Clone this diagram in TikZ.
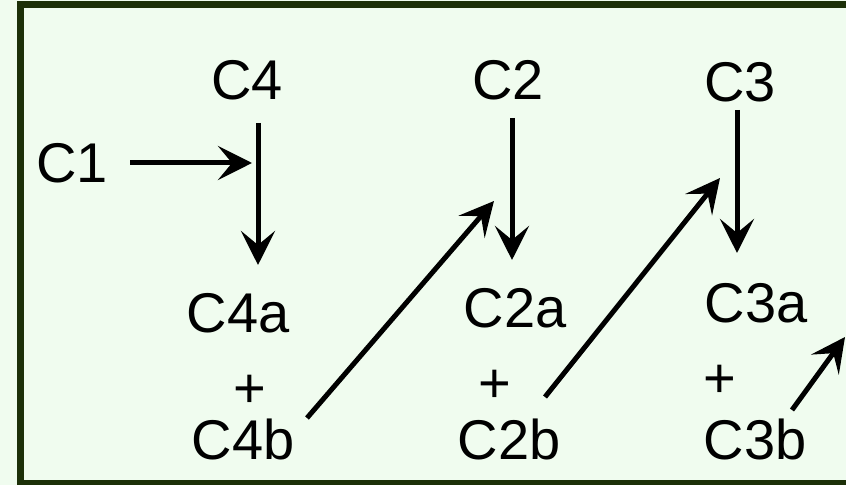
\documentclass[tikz,border=0pt]{standalone}
\usepackage{fontspec}
\setmainfont{Liberation Sans}
\usepackage{xcolor}
\usetikzlibrary{arrows.meta,calc}
\definecolor{mint}{RGB}{240,252,239}
\definecolor{frame}{RGB}{28,48,8}

\begin{document}
\begin{tikzpicture}[
  x=0.5pt,y=-0.5pt,
  font=\fontsize{28}{32}\selectfont,
  lbl/.style={inner sep=0pt, anchor=base},
  arr/.style={-{Stealth[length=17pt,width=17pt,inset=7pt]}, line width=2.5pt, draw=black}
]
\useasboundingbox (0,0) rectangle (846,485);
\fill[mint] (0,0) rectangle (846,485);
\draw[frame, line width=3.5pt] (20,4.5) rectangle (852,484);

% top row
\node[lbl] (c1) at (72,183) {C1};
\node[lbl] (c4) at (247,100) {C4};
\node[lbl] (c2) at (508,100) {C2};
\node[lbl] (c3) at (740,102) {C3};

% products
\node[lbl] (c4a) at (238,333) {C4a};
\node[lbl] (plus4) at (250,408) {+};
\node[lbl] (c4b) at (243,460) {C4b};

\node[lbl] (c2a) at (515,328) {C2a};
\node[lbl] (plus2) at (495,403) {+};
\node[lbl] (c2b) at (509,460) {C2b};

\node[lbl] (c3a) at (756,323) {C3a};
\node[lbl] (plus3) at (720,398) {+};
\node[lbl] (c3b) at (755,460) {C3b};

\coordinate (out) at ($(c3b.base)+(90,-123)$);

\draw[arr] ($(c1.base)+(58,-20)$) -- ($(c4.base)+(5,63)$);
\draw[arr] ($(c4.base)+(11,23)$) -- ($(c4a.base)+(20,-68)$);
\draw[arr] ($(c4b.base)+(64,-42)$) -- ($(c2.base)+(-14,101)$);
\draw[arr] ($(c2.base)+(4,18)$) -- ($(c2a.base)+(-3,-68)$);
\draw[arr] ($(c2b.base)+(36,-63)$) -- ($(c3.base)+(-20,76)$);
\draw[arr] ($(c3.base)+(-3,8)$) -- ($(c3a.base)+(-19,-70)$);
\draw[arr] ($(c3b.base)+(37,-50)$) -- (out);

\end{tikzpicture}
\end{document}
